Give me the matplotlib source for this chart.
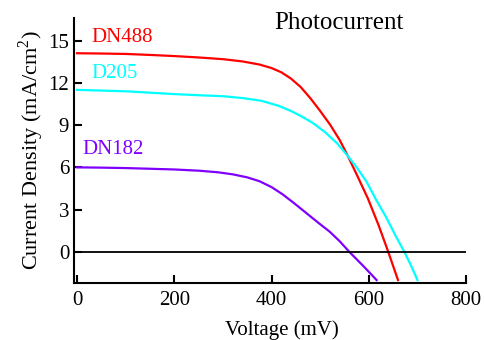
import matplotlib
matplotlib.use("Agg")
import matplotlib.pyplot as plt

plt.rcParams['font.family'] = ['Liberation Serif', 'DejaVu Serif']
plt.rcParams['mathtext.fontset'] = 'custom'
plt.rcParams['mathtext.rm'] = 'Liberation Serif'

# voltage (mV) / current density (mA/cm^2)
dn488_v = [0, 50, 100, 150, 200, 250, 300, 340, 375, 400, 420, 440, 460, 480,
           500, 520, 540, 557, 575, 598, 620, 640, 660]
dn488_j = [14.1, 14.08, 14.05, 13.98, 13.9, 13.8, 13.68, 13.52, 13.3, 13.05, 12.75,
           12.3, 11.7, 10.9, 10.0, 9.05, 7.95, 6.8, 5.5, 3.8, 1.9, 0, -2.0]

d205_v = [0, 50, 100, 150, 200, 250, 300, 340, 380, 416, 440, 460, 485, 510,
          535, 557, 575, 595, 615, 635, 655, 673, 687, 700]
d205_j = [11.5, 11.45, 11.4, 11.3, 11.2, 11.12, 11.05, 10.92, 10.72, 10.35, 10.0,
          9.65, 9.15, 8.5, 7.7, 6.8, 6.0, 5.0, 3.7, 2.5, 1.15, 0, -0.98, -2.0]

dn182_v = [0, 50, 100, 150, 200, 252, 290, 321, 350, 375, 400, 423, 447, 471,
           495, 519, 540, 560, 590, 616]
dn182_j = [6.0, 5.98, 5.95, 5.9, 5.85, 5.76, 5.65, 5.5, 5.29, 5.02, 4.6, 4.08,
           3.44, 2.77, 2.1, 1.45, 0.76, 0, -1.05, -2.0]

xticks = [0, 200, 400, 600, 800]
yticks = [0, 3, 6, 9, 12, 15]

fig = plt.figure(figsize=(4.84, 3.40), dpi=100)
ax = fig.add_axes([0.153, 0.168, 0.810, 0.779])

ax.plot(dn488_v, dn488_j, color='#ff0000', lw=1.6)
ax.plot(d205_v, d205_j, color='#00ffff', lw=1.6)
ax.plot(dn182_v, dn182_j, color='#8000ff', lw=1.6)
ax.plot([0, 800], [0, 0], color='black', lw=1.3)

ax.text(30, 15.2, 'DN488', color='#ff0000', fontsize=15, va='center')
ax.text(30, 12.65, 'D205', color='#00ffff', fontsize=15, va='center')
ax.text(12, 7.25, 'DN182', color='#8000ff', fontsize=15, va='center')
ax.text(406, 16.25, 'Photocurrent', color='black', fontsize=18, va='center')

ax.set_xlim(-6, 800)
ax.set_ylim(-2.2, 16.6)
ax.set_xticks(xticks)
ax.set_yticks(yticks)
ax.tick_params(direction='in', length=6, width=1.5, labelsize=15)
ax.tick_params(axis='x', pad=6)
ax.spines['top'].set_visible(False)
ax.spines['right'].set_visible(False)
ax.spines['left'].set_linewidth(1.5)
ax.spines['bottom'].set_linewidth(1.5)

ax.set_xlabel('Voltage (mV)', fontsize=15)
ax.xaxis.set_label_coords(0.53, -0.18, transform=ax.transAxes)
ax.xaxis.label.set_va('center')
ax.set_ylabel('Current Density (mA/cm$^2$)', fontsize=16, labelpad=2)

fig.savefig('out.png', dpi=100)
